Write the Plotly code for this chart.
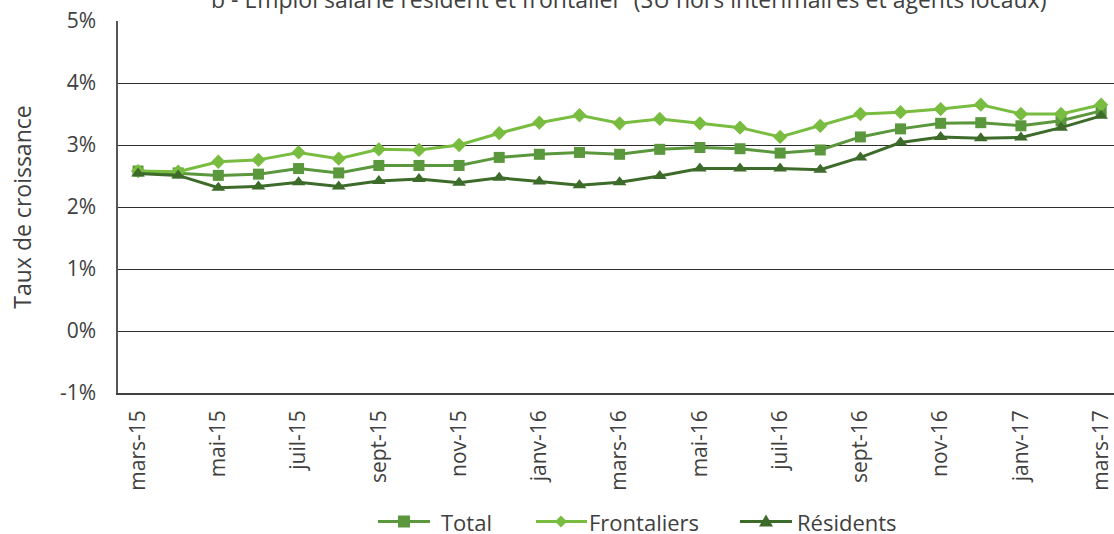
import plotly.graph_objects as go

months = ["mars-15", "avr-15", "mai-15", "juin-15", "juil-15", "août-15", "sept-15", "oct-15",
          "nov-15", "déc-15", "janv-16", "févr-16", "mars-16", "avr-16", "mai-16", "juin-16",
          "juil-16", "août-16", "sept-16", "oct-16", "nov-16", "déc-16", "janv-17", "févr-17", "mars-17"]

total = [2.58, 2.55, 2.51, 2.53, 2.62, 2.55, 2.67, 2.67, 2.67, 2.80, 2.85, 2.88,
         2.85, 2.93, 2.96, 2.94, 2.87, 2.92, 3.13, 3.26, 3.35, 3.36, 3.31, 3.39, 3.55]
frontaliers = [2.58, 2.57, 2.73, 2.76, 2.88, 2.78, 2.93, 2.92, 3.00, 3.19, 3.36, 3.48,
               3.35, 3.42, 3.35, 3.28, 3.13, 3.31, 3.50, 3.53, 3.58, 3.65, 3.50, 3.50, 3.65]
residents = [2.54, 2.51, 2.31, 2.33, 2.40, 2.33, 2.42, 2.45, 2.39, 2.47, 2.41, 2.35,
             2.40, 2.50, 2.62, 2.62, 2.62, 2.60, 2.80, 3.04, 3.13, 3.11, 3.12, 3.28, 3.47]

series_names = ["Total", "Frontaliers", "Résidents"]

y_ticks = [-1, 0, 1, 2, 3, 4, 5]
y_ticktext = ["-1%", "0%", "1%", "2%", "3%", "4%", "5%"]
x_ticks = months[::2]

title_text = "b - Emploi salarié résident et frontalier  (SU hors intérimaires et agents locaux)"

FONT = "Open Sans"
TXT = "#404040"
FS = 21
C_TOT, C_FRO, C_RES = "#5b973c", "#78bc40", "#3d6b2a"

# plot area geometry in page pixels (for the hand-drawn legend and the clipped title)
L, T, W, H = 118, 21, 996, 372


def px_x(p):
    return (p - L) / W


def px_y(p):
    return (T + H - p) / H


fig = go.Figure()
fig.add_trace(go.Scatter(x=months, y=total, name=series_names[0], mode="lines+markers",
                         line=dict(color=C_TOT, width=3),
                         marker=dict(symbol="square", size=11, color=C_TOT)))
fig.add_trace(go.Scatter(x=months, y=frontaliers, name=series_names[1], mode="lines+markers",
                         line=dict(color=C_FRO, width=3),
                         marker=dict(symbol="diamond", size=11, color=C_FRO)))
fig.add_trace(go.Scatter(x=months, y=residents, name=series_names[2], mode="lines+markers",
                         line=dict(color=C_RES, width=3),
                         marker=dict(symbol="triangle-up", size=12, color=C_RES)))

# custom legend (wider symbol lines as in the reference)
leg_y = px_y(521.5)
legend_items = [
    (series_names[0], C_TOT, 378, 430, 404, "square", 440),
    (series_names[1], C_FRO, 536, 587, 561, "diamond", 588),
    (series_names[2], C_RES, 740, 792, 766, "triangle", 796),
]
shapes = []
annotations = []
for name, col, xa, xb, xm, sym, xt in legend_items:
    shapes.append(dict(type="line", xref="paper", yref="paper", x0=px_x(xa), x1=px_x(xb),
                       y0=leg_y, y1=leg_y, line=dict(color=col, width=3), layer="above"))
    common = dict(xref="paper", yref="paper", xsizemode="pixel", ysizemode="pixel",
                  xanchor=px_x(xm), yanchor=leg_y, fillcolor=col, line=dict(width=0),
                  layer="above")
    if sym == "square":
        shapes.append(dict(type="rect", x0=-6, x1=6, y0=-6, y1=6, **common))
    elif sym == "diamond":
        shapes.append(dict(type="path", path="M0,6 L6,0 L0,-6 L-6,0 Z", **common))
    else:
        shapes.append(dict(type="path", path="M-7,-5 L7,-5 L0,7 Z", **common))
    annotations.append(dict(text=name, xref="paper", yref="paper", x=px_x(xt), y=leg_y,
                            xanchor="left", yanchor="middle", showarrow=False,
                            borderpad=0, font=dict(family=FONT, size=22, color=TXT)))

# title, partly cut by the top edge as in the reference
annotations.append(dict(text=title_text, xref="paper", yref="paper", x=px_x(628), y=px_y(-1),
                        xanchor="center", yanchor="middle", showarrow=False,
                        font=dict(family=FONT, size=23, color=TXT)))

fig.update_layout(
    width=1114, height=534,
    margin=dict(l=L, r=0, t=T, b=534 - T - H, autoexpand=False),
    paper_bgcolor="white", plot_bgcolor="white",
    font=dict(family=FONT, size=FS, color=TXT),
    showlegend=False,
    shapes=shapes,
    annotations=annotations,
    xaxis=dict(type="category", range=[-0.5, 24.32], tickmode="array",
               tickvals=x_ticks, ticktext=x_ticks, tickangle=-90,
               showgrid=False, showline=True, linecolor="#404040", linewidth=1.5,
               ticks="", ticklabelstandoff=7, zeroline=False,
               tickfont=dict(family=FONT, size=FS, color=TXT)),
    yaxis=dict(range=[-1, 5], tickmode="array", tickvals=y_ticks, ticktext=y_ticktext,
               showgrid=True, gridcolor="#2e2e2e", gridwidth=1,
               showline=True, linecolor="#555555", linewidth=1.5,
               zeroline=False, ticks="", ticklabelstandoff=16,
               tickfont=dict(family=FONT, size=FS, color=TXT),
               title=dict(text="Taux de croissance", standoff=22,
                          font=dict(family=FONT, size=23, color=TXT))),
)

fig.write_html("out.html", config={"displayModeBar": False},
               post_script="document.body.style.margin='0';document.body.style.overflow='hidden';")
